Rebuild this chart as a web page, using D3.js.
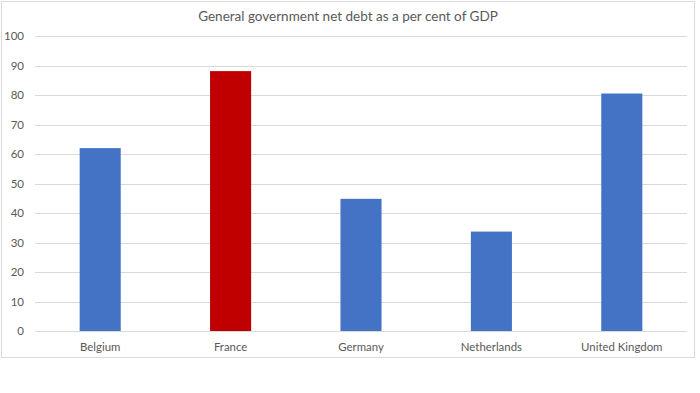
<!DOCTYPE html>
<html>
<head>
<meta charset="utf-8">
<script src="https://cdn.jsdelivr.net/npm/d3@7"></script>
<style>
body { margin: 0; background: #fff; }
text { font-family: Lato, "Open Sans", sans-serif; fill: #595959; }
</style>
</head>
<body>
<script>
var svg_w = 700
var svg_h = 393

var countries = ["Belgium", "France", "Germany", "Netherlands", "United Kingdom"]
var debt = [62, 88.1, 44.8, 33.7, 80.5]
var bar_colors = ["#4472C4", "#C00000", "#4472C4", "#4472C4", "#4472C4"]
var y_ticks = [0, 10, 20, 30, 40, 50, 60, 70, 80, 90, 100]

var svg = d3.select("body")
        .append("svg")
        .attr("width", svg_w)
        .attr("height", svg_h)

// chart border
svg.append("rect")
   .attr("x", 1.5).attr("y", 1.5)
   .attr("width", 693).attr("height", 356)
   .attr("fill", "white")
   .attr("stroke", "#D9D9D9")

var xscale = d3.scaleBand().domain(countries).range([35, 687])
var yscale = d3.scaleLinear().domain([0, 100]).range([331, 36])

// gridlines
svg.selectAll("line.grid")
   .data(y_ticks)
   .enter()
   .append("line")
   .attr("class", "grid")
   .attr("x1", 35).attr("x2", 687)
   .attr("y1", d => Math.round(yscale(d)) + 0.5)
   .attr("y2", d => Math.round(yscale(d)) + 0.5)
   .attr("stroke", "#D9D9D9")
   .attr("stroke-width", 1)

// y tick labels
svg.selectAll("text.ytick")
   .data(y_ticks)
   .enter()
   .append("text")
   .attr("class", "ytick")
   .attr("x", 24)
   .attr("y", d => yscale(d))
   .attr("dy", "0.35em")
   .attr("text-anchor", "end")
   .attr("font-size", 11.5)
   .text(d => d)

// bars
var bw = xscale.bandwidth() * 0.315
svg.selectAll("rect.bar")
   .data(debt)
   .enter()
   .append("rect")
   .attr("class", "bar")
   .attr("x", (d, i) => xscale(countries[i]) + xscale.bandwidth() / 2 - bw / 2)
   .attr("y", d => yscale(d))
   .attr("width", bw)
   .attr("height", d => yscale(0) - yscale(d))
   .attr("fill", (d, i) => bar_colors[i])

// category labels
svg.selectAll("text.xlab")
   .data(countries)
   .enter()
   .append("text")
   .attr("class", "xlab")
   .attr("x", d => xscale(d) + xscale.bandwidth() / 2)
   .attr("y", 347)
   .attr("dy", "0.35em")
   .attr("text-anchor", "middle")
   .attr("font-size", 11.4)
   .text(d => d)

// title
svg.append("text")
   .attr("x", 348)
   .attr("y", 16)
   .attr("dy", "0.35em")
   .attr("text-anchor", "middle")
   .attr("font-size", 13.5)
   .text("General government net debt as a per cent of GDP")
</script>
</body>
</html>
